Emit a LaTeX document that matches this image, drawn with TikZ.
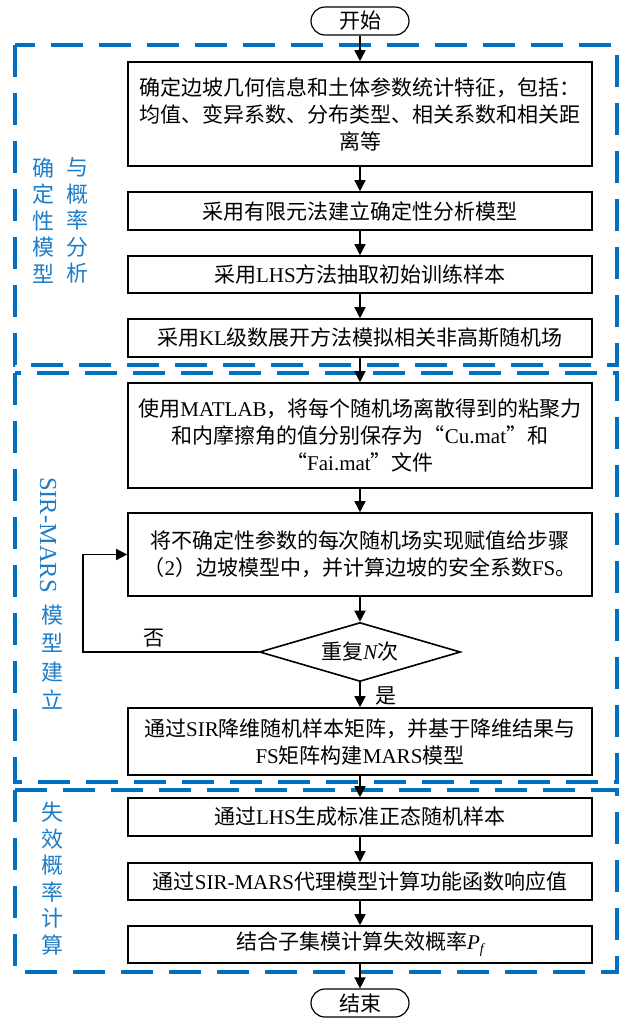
\documentclass[tikz,border=0pt]{standalone}
\usepackage{fontspec}
\setmainfont{Noto Sans CJK SC}
\newfontfamily\lat{Liberation Serif}
\usetikzlibrary{arrows.meta,shapes.geometric}
\definecolor{frameblue}{RGB}{0,112,192}
\definecolor{labelblue}{RGB}{30,125,200}
\newcommand{\en}[1]{{\lat #1}}
\begin{document}
\begin{tikzpicture}[x=1pt,y=-1pt,
  procbox/.style={draw=black, line width=1.6pt, minimum width=464pt, inner sep=0pt, align=center, font=\fontsize{21}{27}\selectfont},
  term/.style={draw=black, line width=1.2pt, rounded corners=14pt, minimum width=98pt, minimum height=28pt, inner sep=0pt, font=\fontsize{21}{24}\selectfont},
  decision/.style={draw=black, line width=1.6pt, diamond, aspect=3.4, inner sep=0pt, minimum width=201pt, minimum height=59pt, font=\fontsize{21}{24}\selectfont},
  flow/.style={line width=1.5pt, -{Triangle[length=11pt,width=11pt]}},
  stage/.style={draw=frameblue, line width=3.5pt, dash pattern=on 32pt off 16pt},
  stagelabel/.style={text=labelblue, align=center, inner sep=0pt, font=\fontsize{22}{26.5}\selectfont},
  plainlabel/.style={inner sep=0pt, font=\fontsize{21}{24}\selectfont}
]
\useasboundingbox (0,0) rectangle (619,1018);

% stage frames
\draw[stage] (15,45) rectangle (617,365);
\draw[stage] (15,373) rectangle (617,782);
\draw[stage] (15,790) rectangle (617,972);

% stage labels
\node[stagelabel] (lab1a) at (43,220.5) {确\\定\\性\\模\\型};
\node[stagelabel] (lab1b) at (77,220.5) {与\\概\\率\\分\\析};
\node[stagelabel, rotate=-90, font=\lat\fontsize{24.5}{24}\selectfont] (lab2a) at (48,535) {SIR-MARS};
\node[stagelabel, font=\fontsize{22}{28.5}\selectfont] (lab2b) at (52,657) {模\\型\\建\\立};
\node[stagelabel] (lab3) at (52,878.5) {失\\效\\概\\率\\计\\算};

% nodes
\node[term] (start) at (360,21) {开始};
\node[procbox, minimum height=104pt] (b1) at (360,114) {确定边坡几何信息和土体参数统计特征，包括：\\均值、变异系数、分布类型、相关系数和相关距\\离等};
\node[procbox, minimum height=38pt] (b2) at (360,211) {采用有限元法建立确定性分析模型};
\node[procbox, minimum height=37pt] (b3) at (360,274.5) {采用\en{LHS}方法抽取初始训练样本};
\node[procbox, minimum height=38pt] (b4) at (360,338) {采用\en{KL}级数展开方法模拟相关非高斯随机场};
\node[procbox, minimum height=105pt] (b5) at (360,435.5) {使用\en{MATLAB}，将每个随机场离散得到的粘聚力\\和内摩擦角的值分别保存为“\en{Cu.mat}”和\\“\en{Fai.mat}”文件};
\node[procbox, minimum height=83pt] (b6) at (360,554.5) {将不确定性参数的每次随机场实现赋值给步骤\\（\en{2}）边坡模型中，并计算边坡的安全系数\en{FS}。};
\node[decision] (dec) at (360,652) {重复{\lat\itshape N}次};
\node[procbox, minimum height=67pt] (b7) at (360,741.5) {通过\en{SIR}降维随机样本矩阵，并基于降维结果与\\\en{FS}矩阵构建\en{MARS}模型};
\node[procbox, minimum height=38pt] (b8) at (360,817) {通过\en{LHS}生成标准正态随机样本};
\node[procbox, minimum height=37pt] (b9) at (360,881.5) {通过\en{SIR-MARS}代理模型计算功能函数响应值};
\node[procbox, minimum height=37pt] (b10) at (360,944.5) {结合子集模计算失效概率{\lat\itshape P}\raisebox{-4pt}{\lat\itshape\fontsize{14}{14}\selectfont f}};
\node[term] (end) at (360,1003) {结束};

\node[plainlabel] (no) at (154,638) {否};
\node[plainlabel] (yes) at (386,696) {是};
\coordinate (loopcorner) at (83,652);

% connectors
\draw[flow] (start) -- (b1);
\draw[flow] (b1) -- (b2);
\draw[flow] (b2) -- (b3);
\draw[flow] (b3) -- (b4);
\draw[flow] (b4) -- (b5);
\draw[flow] (b5) -- (b6);
\draw[flow] (b6) -- (dec);
\draw[flow] (dec) -- (b7);
\draw[flow] (dec.west) -- (loopcorner) |- (b6.west);
\draw[flow] (b7) -- (b8);
\draw[flow] (b8) -- (b9);
\draw[flow] (b9) -- (b10);
\draw[flow] (b10) -- (end);
\end{tikzpicture}
\end{document}
